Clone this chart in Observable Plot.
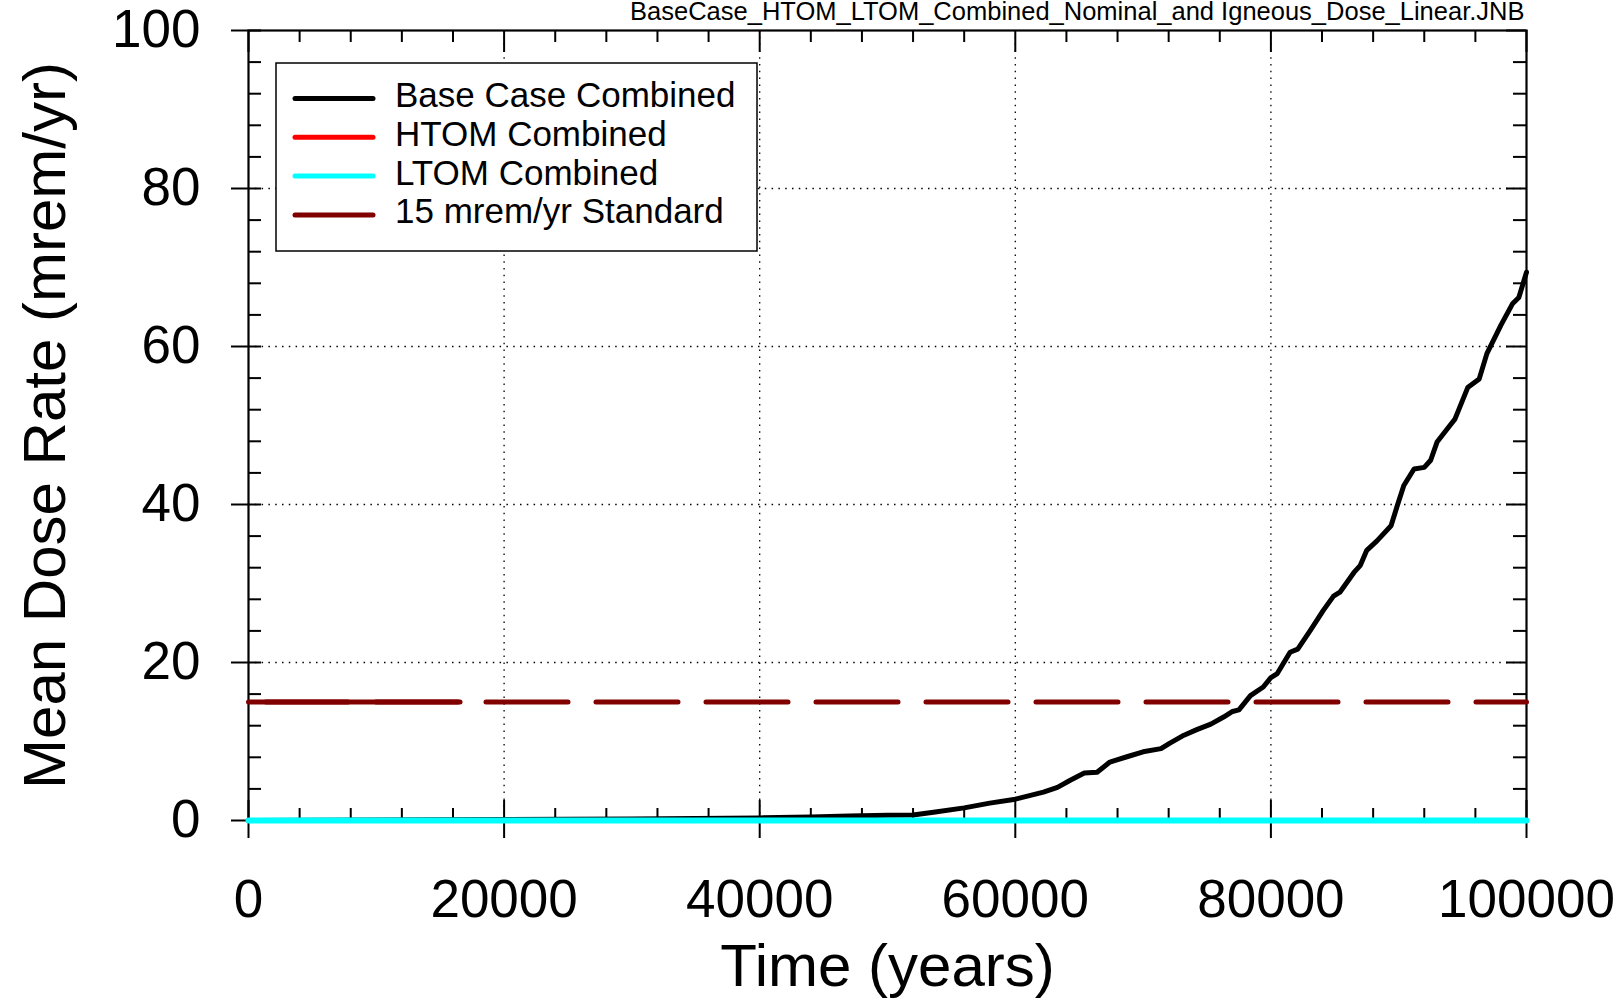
<!DOCTYPE html>
<html>
<head>
<meta charset="utf-8">
<script src="https://cdn.jsdelivr.net/npm/d3@7"></script>
<script src="https://cdn.jsdelivr.net/npm/@observablehq/plot@0.6"></script>
<style>
  html, body { margin: 0; padding: 0; background: #fff; }
  #wrap { position: relative; width: 1621px; height: 1000px; font-family: "Liberation Sans", Arial, sans-serif; }
  #legend { position: absolute; left: 0; top: 0; }
</style>
</head>
<body>
<div id="wrap"></div>
<script>
// ---- data ----
const fileTitle = "BaseCase_HTOM_LTOM_Combined_Nominal_and Igneous_Dose_Linear.JNB";
const xLabel = "Time (years)";
const yLabel = "Mean Dose Rate (mrem/yr)";
const seriesNames = ["Base Case Combined", "HTOM Combined", "LTOM Combined", "15 mrem/yr Standard"];
const seriesColors = ["#000000", "#ff0000", "#00ffff", "#800000"];

const xMajorTicks = [0, 20000, 40000, 60000, 80000, 100000];
const yMajorTicks = [0, 20, 40, 60, 80, 100];
const xMinorTicks = [4000, 8000, 12000, 16000, 24000, 28000, 32000, 36000, 44000, 48000, 52000, 56000, 64000, 68000, 72000, 76000, 84000, 88000, 92000, 96000];
const yMinorTicks = [4, 8, 12, 16, 24, 28, 32, 36, 44, 48, 52, 56, 64, 68, 72, 76, 84, 88, 92, 96];

const baseTime = [0, 5000, 10000, 15000, 20000, 25000, 30000, 35000, 40000, 44000, 47000, 50000, 52000, 53600, 56000, 58000, 60000, 62200, 63300, 64300, 65400, 66400, 67400, 68800, 70000, 71400, 72100, 73200, 74200, 75300, 76300, 77000, 77500, 78400, 79400, 80000, 80500, 81500, 82100, 83100, 84100, 84900, 85400, 86500, 87000, 87500, 88300, 89400, 89900, 90400, 91200, 92000, 92500, 93000, 94100, 94400, 95400, 96300, 96900, 98000, 98900, 99400, 100000];
const baseDose = [0.0, 0.04, 0.07, 0.1, 0.12, 0.15, 0.2, 0.25, 0.33, 0.45, 0.58, 0.65, 0.7, 1.05, 1.6, 2.2, 2.7, 3.6, 4.2, 5.1, 6.0, 6.1, 7.4, 8.1, 8.7, 9.1, 9.8, 10.8, 11.5, 12.2, 13.1, 13.8, 14.0, 15.8, 16.9, 18.1, 18.6, 21.3, 21.7, 24.1, 26.6, 28.4, 28.9, 31.4, 32.3, 34.2, 35.4, 37.3, 39.9, 42.4, 44.5, 44.7, 45.6, 47.9, 50.2, 50.8, 54.8, 55.9, 59.1, 62.7, 65.4, 66.2, 69.4];

const otherTime = [0, 20000, 40000, 60000, 80000, 100000];
const htomDose = [0.0, 0.0, 0.0, 0.0, 0.0, 0.0];
const ltomDose = [0.0, 0.0, 0.0, 0.0, 0.0, 0.0];

const standardTime = [0, 100000];
const standardDose = [15, 15];
const standardSolidTime = [0, 16550];

// ---- tables ----
const base = baseTime.map((t, i) => ({t, v: baseDose[i]}));
const htom = otherTime.map((t, i) => ({t, v: htomDose[i]}));
const ltom = otherTime.map((t, i) => ({t, v: ltomDose[i]}));
const std = standardTime.map((t, i) => ({t, v: standardDose[i]}));
const stdSolid = standardSolidTime.map(t => ({t, v: standardDose[0]}));

// ---- layout (style) ----
const W = 1621, H = 1000, ML = 248, MR = 95, MT = 30, MB = 180;
const PW = W - ML - MR, PH = H - MT - MB;
const font = "'Liberation Sans', Arial, sans-serif";

const chart = Plot.plot({
  width: W, height: H,
  marginLeft: ML, marginRight: MR, marginTop: MT, marginBottom: MB,
  x: {domain: [0, 100000]},
  y: {domain: [0, 100]},
  style: {fontFamily: font, background: "white", color: "black", overflow: "visible"},
  marks: [
    // grid
    Plot.ruleX(xMajorTicks.slice(1, -1), {stroke: "black", strokeWidth: 1.3, strokeDasharray: "1.5,5.3"}),
    Plot.ruleY(yMajorTicks.slice(1, -1), {stroke: "black", strokeWidth: 1.3, strokeDasharray: "1.5,5.3"}),
    Plot.frame({stroke: "black", strokeWidth: 2.2}),
    // inward ticks bottom
    Plot.ruleX(xMajorTicks, {insetTop: PH - 20, stroke: "black", strokeWidth: 2}),
    Plot.ruleX(xMinorTicks, {insetTop: PH - 12, stroke: "black", strokeWidth: 2}),
    // inward ticks top
    Plot.ruleX(xMajorTicks, {insetBottom: PH - 22, stroke: "black", strokeWidth: 2}),
    Plot.ruleX(xMinorTicks, {insetBottom: PH - 12, stroke: "black", strokeWidth: 2}),
    // inward ticks left
    Plot.ruleY(yMajorTicks, {insetRight: PW - 13, stroke: "black", strokeWidth: 2}),
    Plot.ruleY(yMinorTicks, {insetRight: PW - 13, stroke: "black", strokeWidth: 2}),
    // inward ticks right
    Plot.ruleY(yMajorTicks, {insetLeft: PW - 20, stroke: "black", strokeWidth: 2}),
    Plot.ruleY(yMinorTicks, {insetLeft: PW - 13, stroke: "black", strokeWidth: 2}),
    // axes
    Plot.axisX({ticks: xMajorTicks, tickSize: 18, tickPadding: 41, fontSize: 53, strokeWidth: 2, tickFormat: d => String(d), label: null}),
    Plot.axisY({ticks: yMajorTicks, tickSize: 17, tickPadding: 31, fontSize: 53, strokeWidth: 2, tickFormat: d => String(d), label: null}),
    // standard
    Plot.line(std, {x: "t", y: "v", stroke: seriesColors[3], strokeWidth: 5, strokeLinecap: "round", strokeDasharray: "82,28", strokeDashoffset: 92.5}),
    Plot.line(stdSolid, {x: "t", y: "v", stroke: seriesColors[3], strokeWidth: 5, strokeLinecap: "round"}),
    // series
    Plot.line(base, {x: "t", y: "v", stroke: seriesColors[0], strokeWidth: 5, strokeLinejoin: "round"}),
    Plot.line(htom, {x: "t", y: "v", stroke: seriesColors[1], strokeWidth: 5}),
    Plot.line(ltom, {x: "t", y: "v", stroke: seriesColors[2], strokeWidth: 6}),
    // labels
    Plot.text([xLabel], {frameAnchor: "bottom", lineAnchor: "bottom", dy: 165, fontSize: 60, fill: "black"}),
    Plot.text([yLabel], {frameAnchor: "left", textAnchor: "middle", rotate: -90, lineAnchor: "middle", dx: -203, fontSize: 60, fill: "black"}),
    Plot.text([fileTitle], {frameAnchor: "top-right", textAnchor: "end", lineAnchor: "bottom", dy: -10.5, dx: -2, fontSize: 25.5, fill: "black"})
  ]
});

const wrap = document.getElementById("wrap");
wrap.appendChild(chart);

// ---- legend overlay ----
const lg = d3.select(wrap).append("svg")
  .attr("id", "legend")
  .attr("width", W).attr("height", H)
  .style("pointer-events", "none");
const box = {x: 276, y: 63, w: 481, h: 188};
lg.append("rect").attr("x", box.x).attr("y", box.y).attr("width", box.w).attr("height", box.h)
  .attr("fill", "white").attr("stroke", "black").attr("stroke-width", 1.5);
seriesNames.forEach((name, i) => {
  const cy = 98.5 + i * 38.8;
  lg.append("line").attr("x1", 295).attr("x2", 373).attr("y1", cy).attr("y2", cy)
    .attr("stroke", seriesColors[i]).attr("stroke-width", 5).attr("stroke-linecap", "round");
  lg.append("text").attr("x", 395).attr("y", cy + 8.5).attr("font-size", 35)
    .attr("font-family", font).attr("fill", "black").text(name);
});
</script>
</body>
</html>
